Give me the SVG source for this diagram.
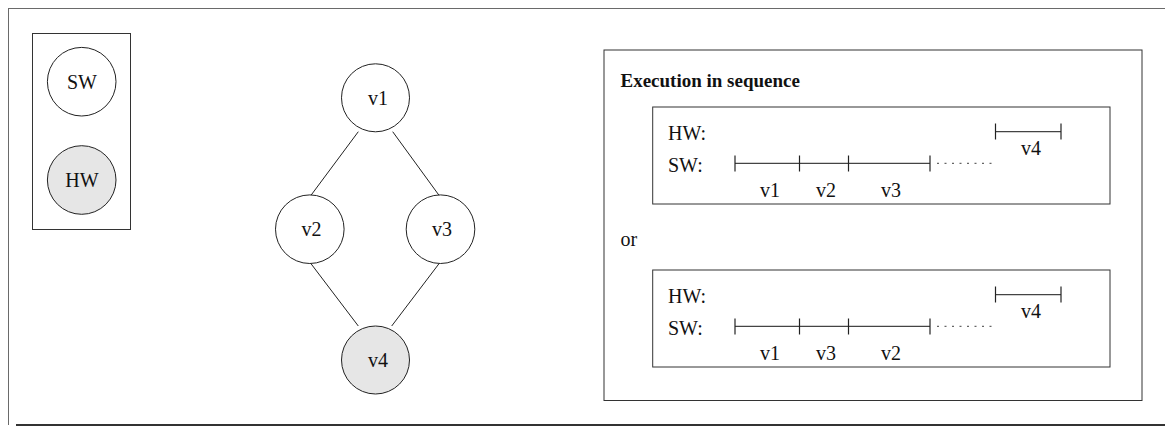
<svg xmlns="http://www.w3.org/2000/svg" width="1165" height="427" viewBox="0 0 1165 427">
  <style>
    .frame { fill: none; stroke: #6a6a6a; stroke-width: 1; }
    .box { fill: none; stroke: #333; stroke-width: 1; }
    .node { fill: #fff; stroke: #222; stroke-width: 1; }
    .node.hw { fill: #e6e6e6; }
    .lbl { font-family: "Liberation Serif", "Times New Roman", serif; font-size: 20px; fill: #111; }
    .mid { text-anchor: middle; }
    .title { font-weight: bold; font-size: 19px; }
    .edge { stroke: #222; stroke-width: 1; fill: none; }
    .seg { stroke: #444; stroke-width: 1.3; fill: none; }
    .tick { stroke: #222; stroke-width: 1.2; }
    .dots { stroke: #666; stroke-width: 1.2; stroke-dasharray: 2 5.5; fill: none; }
  </style>

  <!-- page frame -->
  <g id="frame">
    <line class="frame" x1="8" y1="8.5" x2="1165" y2="8.5"/>
    <line class="frame" x1="8.5" y1="8" x2="8.5" y2="425"/>
    <line x1="16" y1="425" x2="1165" y2="425" stroke="#333" stroke-width="2"/>
  </g>

  <!-- legend -->
  <g id="legend">
    <rect class="box" x="32.5" y="33.5" width="98" height="196"/>
    <g id="legend-sw">
      <circle class="node" cx="81.7" cy="81.7" r="34.3"/>
      <text class="lbl mid" x="82" y="88.5">SW</text>
    </g>
    <g id="legend-hw">
      <circle class="node hw" cx="81.7" cy="180" r="34.3"/>
      <text class="lbl mid" x="82" y="187">HW</text>
    </g>
  </g>

  <!-- task graph connectors -->
  <g id="connectors">
    <line class="edge" x1="358.3" y1="131.7" x2="310.7" y2="195.7"/>
    <line class="edge" x1="392.7" y1="131.7" x2="439.3" y2="195.7"/>
    <line class="edge" x1="310.7" y1="263.3" x2="358.3" y2="326"/>
    <line class="edge" x1="439.3" y1="263.3" x2="391.7" y2="326"/>
  </g>

  <!-- task graph nodes -->
  <g id="v1">
    <circle class="node" cx="375.5" cy="97.8" r="34"/>
    <text class="lbl mid" x="378" y="104.5">v1</text>
  </g>
  <g id="v2">
    <circle class="node" cx="309.8" cy="229.2" r="34.3"/>
    <text class="lbl mid" x="311.5" y="236">v2</text>
  </g>
  <g id="v3">
    <circle class="node" cx="440.5" cy="229.2" r="34.3"/>
    <text class="lbl mid" x="442" y="236">v3</text>
  </g>
  <g id="v4">
    <circle class="node hw" cx="375.5" cy="360" r="34"/>
    <text class="lbl mid" x="378" y="367">v4</text>
  </g>

  <!-- schedule panel -->
  <g id="schedule">
    <rect class="box" x="604" y="50" width="538" height="350.5"/>
    <text class="lbl title" x="620.5" y="87">Execution in sequence</text>
    <text class="lbl" x="620.5" y="246">or</text>

    <!-- order v1, v2, v3 then v4 -->
    <g id="schedule-a">
      <rect class="box" x="652.7" y="107" width="457.3" height="97"/>
      <text class="lbl" x="668" y="140">HW:</text>
      <text class="lbl" x="668" y="171.5">SW:</text>
      <line class="seg" x1="735" y1="163.3" x2="930" y2="163.3"/>
      <line class="tick" x1="735" y1="155.5" x2="735" y2="171.5"/>
      <line class="tick" x1="799.5" y1="155.5" x2="799.5" y2="171.5"/>
      <line class="tick" x1="848.5" y1="155.5" x2="848.5" y2="171.5"/>
      <line class="tick" x1="930" y1="155.5" x2="930" y2="171.5"/>
      <line class="dots" x1="937" y1="163.3" x2="992" y2="163.3"/>
      <line class="seg" x1="995.5" y1="131.7" x2="1061" y2="131.7"/>
      <line class="tick" x1="995.5" y1="123.5" x2="995.5" y2="139.5"/>
      <line class="tick" x1="1061" y1="123.5" x2="1061" y2="139.5"/>
      <text class="lbl mid" x="1031" y="155">v4</text>
      <text class="lbl mid" x="770" y="197">v1</text>
      <text class="lbl mid" x="826" y="197">v2</text>
      <text class="lbl mid" x="891" y="197">v3</text>
    </g>

    <!-- order v1, v3, v2 then v4 -->
    <g id="schedule-b" transform="translate(0,163)">
      <rect class="box" x="652.7" y="107" width="457.3" height="97"/>
      <text class="lbl" x="668" y="140">HW:</text>
      <text class="lbl" x="668" y="171.5">SW:</text>
      <line class="seg" x1="735" y1="163.3" x2="930" y2="163.3"/>
      <line class="tick" x1="735" y1="155.5" x2="735" y2="171.5"/>
      <line class="tick" x1="799.5" y1="155.5" x2="799.5" y2="171.5"/>
      <line class="tick" x1="848.5" y1="155.5" x2="848.5" y2="171.5"/>
      <line class="tick" x1="930" y1="155.5" x2="930" y2="171.5"/>
      <line class="dots" x1="937" y1="163.3" x2="992" y2="163.3"/>
      <line class="seg" x1="995.5" y1="131.7" x2="1061" y2="131.7"/>
      <line class="tick" x1="995.5" y1="123.5" x2="995.5" y2="139.5"/>
      <line class="tick" x1="1061" y1="123.5" x2="1061" y2="139.5"/>
      <text class="lbl mid" x="1031" y="155">v4</text>
      <text class="lbl mid" x="770" y="197">v1</text>
      <text class="lbl mid" x="826" y="197">v3</text>
      <text class="lbl mid" x="891" y="197">v2</text>
    </g>
  </g>
</svg>
